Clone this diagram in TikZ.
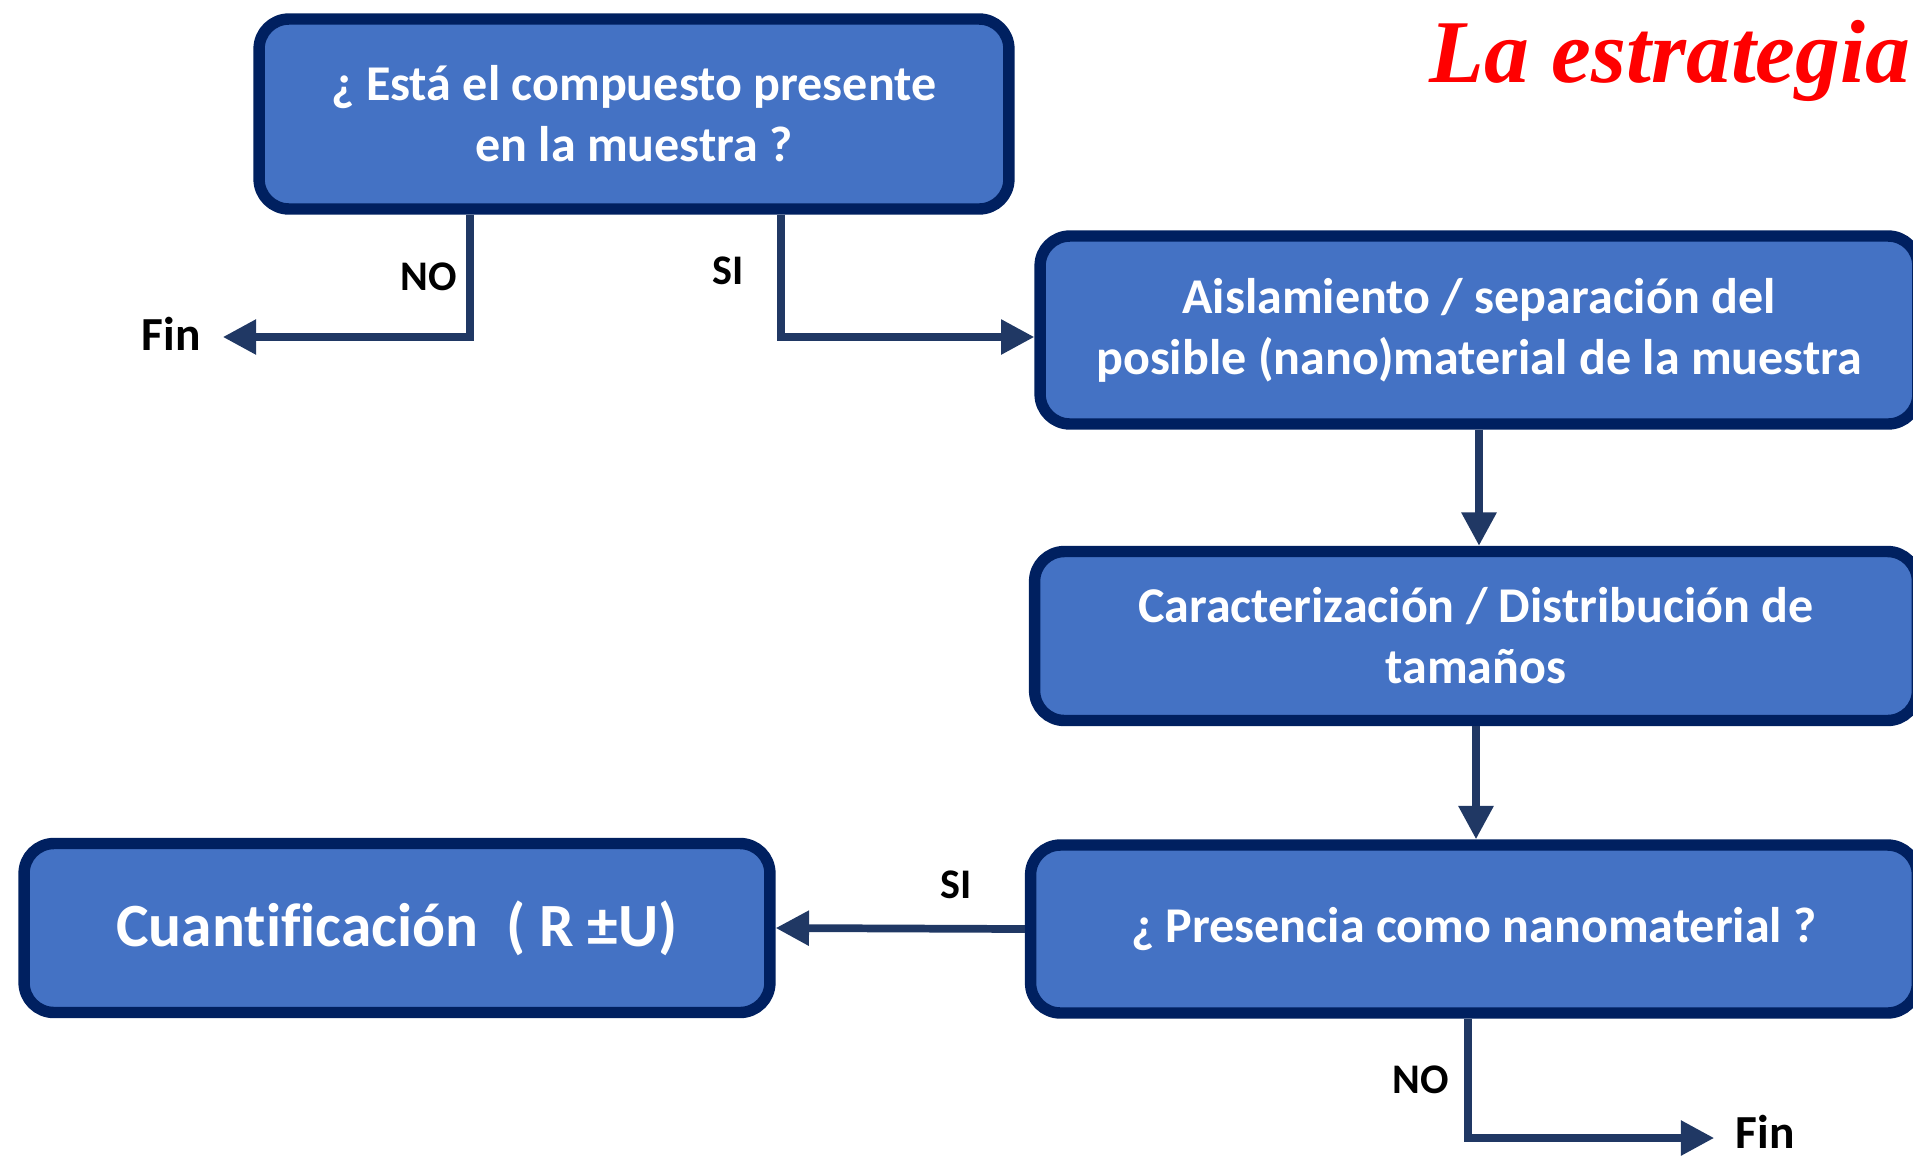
\documentclass[tikz,border=0pt]{standalone}
\usepackage{fontspec}
\setmainfont{Carlito}[Ligatures=NoCommon]
\newfontfamily\titlefont{Liberation Serif}
\usetikzlibrary{arrows.meta}
\definecolor{boxfill}{HTML}{4472C4}
\definecolor{boxline}{HTML}{002060}
\definecolor{arrowcol}{HTML}{203864}
\begin{document}
\begin{tikzpicture}[x=0.02cm, y=-0.02cm,
    box/.style={draw=boxline, fill=boxfill, line width=6.5pt, rounded corners=17pt,
                text=white, align=center, inner sep=0pt,
                font=\bfseries\fontsize{28.5}{34.7}\selectfont},
    flow/.style={draw=arrowcol, line width=4.4pt, -{Triangle[length=19pt, width=19pt]}},
    lbl/.style={inner sep=0pt, font=\bfseries\fontsize{24}{28}\selectfont}]
  \useasboundingbox (0, 0) rectangle (1913, 1157);
  \clip (0, 0) rectangle (1913, 1157);
  \node[font=\titlefont\bfseries\itshape\fontsize{51}{60}\selectfont, text=red, inner sep=0pt]
    (title) at (1670, 61) {La estrategia};
  \node[box, minimum width=15cm, minimum height=3.8cm] (q1) at (634, 114)
    {¿ Está el compuesto presente\\en la muestra ?};
  \node[box, minimum width=17.56cm, minimum height=3.76cm] (sep) at (1479, 330)
    {Aislamiento / separación del\\posible (nano)material de la muestra};
  \node[box, minimum width=17.66cm, minimum height=3.38cm] (car) at (1476, 636)
    {Caracterización / Distribución de\\tamaños};
  \node[box, minimum width=17.74cm, minimum height=3.36cm] (pres) at (1474, 929)
    {¿ Presencia como nanomaterial ?};
  \node[box, minimum width=14.92cm, minimum height=3.38cm, font=\bfseries\fontsize{35}{42}\selectfont]
    (cuan) at (397, 928) {Cuantificación~~( R ±U)};
  \node[lbl, font=\bfseries\fontsize{27}{32}\selectfont] (fin1) at (171, 334) {Fin};
  \node[lbl, font=\bfseries\fontsize{27}{32}\selectfont] (fin2) at (1765, 1132) {Fin};
  \coordinate (no1) at (470, 337);
  \coordinate (si1) at (781, 337);
  \coordinate (no2) at (1468, 1138);
  \draw[flow] (q1.south -| no1) |- ([xshift=0.44cm]fin1.east |- no1);
  \draw[flow] (q1.south -| si1) |- (sep.west |- si1);
  \draw[flow] (sep.south) -- (sep.south |- car.north);
  \draw[flow] (car.south) -- (car.south |- pres.north);
  \draw[flow] (pres.west) -- (cuan.east);
  \draw[flow] (pres.south -| no2) |- ([xshift=-0.42cm]fin2.west |- no2);
  \node[lbl] (lno1) at (429, 277) {NO};
  \node[lbl] (lsi1) at (728, 271) {SI};
  \node[lbl] (lsi2) at (956, 885) {SI};
  \node[lbl] (lno2) at (1421, 1080) {NO};
\end{tikzpicture}
\end{document}
